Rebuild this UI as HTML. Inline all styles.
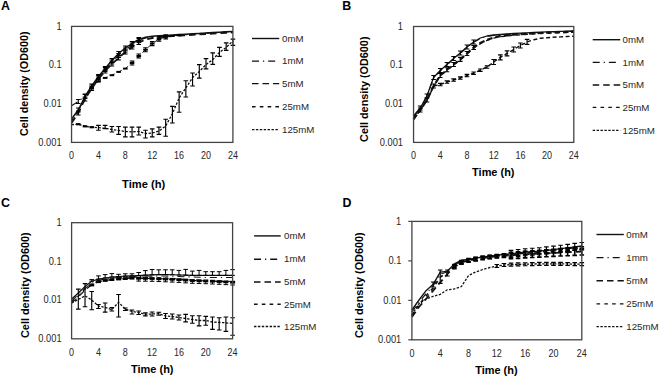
<!DOCTYPE html><html><head><meta charset="utf-8"><style>html,body{margin:0;padding:0;background:#fff;}svg{display:block;}text{font-family:"Liberation Sans",sans-serif;}</style></head><body>
<svg width="660" height="378" viewBox="0 0 660 378">
<rect x="0" y="0" width="660" height="378" fill="#fff"/>
<text x="1.00" y="10.30"  font-weight="bold" font-size="12.4" fill="#000">A</text>
<polyline points="71.55,119.00 78.27,110.00 85.00,96.50 91.72,86.00 98.44,76.50 105.16,68.50 111.89,60.50 118.61,53.50 125.33,48.00 132.06,43.50 138.78,39.50 145.50,37.30 152.23,36.30 158.95,35.80 165.67,35.40 172.39,35.00 179.12,34.60 185.84,34.20 192.56,33.80 199.29,33.40 206.01,33.00 212.73,32.60 219.45,32.20 226.18,31.80 232.90,31.40" fill="none" stroke="#111" stroke-width="1.5" stroke-linejoin="round"/>
<path d="M78.27 108.00V112.00M75.97 108.00h4.6M75.97 112.00h4.6" stroke="#000" stroke-width="1.15" fill="none"/>
<path d="M85.00 94.50V98.50M82.70 94.50h4.6M82.70 98.50h4.6" stroke="#000" stroke-width="1.15" fill="none"/>
<path d="M91.72 84.00V88.00M89.42 84.00h4.6M89.42 88.00h4.6" stroke="#000" stroke-width="1.15" fill="none"/>
<path d="M98.44 74.50V78.50M96.14 74.50h4.6M96.14 78.50h4.6" stroke="#000" stroke-width="1.15" fill="none"/>
<path d="M105.16 66.50V70.50M102.86 66.50h4.6M102.86 70.50h4.6" stroke="#000" stroke-width="1.15" fill="none"/>
<path d="M111.89 58.50V62.50M109.59 58.50h4.6M109.59 62.50h4.6" stroke="#000" stroke-width="1.15" fill="none"/>
<path d="M118.61 51.50V55.50M116.31 51.50h4.6M116.31 55.50h4.6" stroke="#000" stroke-width="1.15" fill="none"/>
<path d="M125.33 46.00V50.00M123.03 46.00h4.6M123.03 50.00h4.6" stroke="#000" stroke-width="1.15" fill="none"/>
<path d="M132.06 41.50V45.50M129.76 41.50h4.6M129.76 45.50h4.6" stroke="#000" stroke-width="1.15" fill="none"/>
<path d="M138.78 37.50V41.50M136.48 37.50h4.6M136.48 41.50h4.6" stroke="#000" stroke-width="1.15" fill="none"/>
<polyline points="71.55,105.70 78.27,101.50 85.00,96.00 91.72,87.00 98.44,77.50 105.16,69.50 111.89,62.00 118.61,55.50 125.33,50.00 132.06,45.00 138.78,40.50 145.50,38.00 152.23,37.00 158.95,36.40 165.67,35.80 172.39,35.40 179.12,35.00 185.84,34.50 192.56,34.00 199.29,33.50 206.01,33.00 212.73,32.65 219.45,32.30 226.18,31.95 232.90,31.60" fill="none" stroke="#111" stroke-width="1.1" stroke-dasharray="7 4 1.2 4" stroke-linejoin="round"/>
<path d="M78.27 99.50V103.50M75.97 99.50h4.6M75.97 103.50h4.6" stroke="#000" stroke-width="1.15" fill="none"/>
<path d="M85.00 94.00V98.00M82.70 94.00h4.6M82.70 98.00h4.6" stroke="#000" stroke-width="1.15" fill="none"/>
<path d="M91.72 85.00V89.00M89.42 85.00h4.6M89.42 89.00h4.6" stroke="#000" stroke-width="1.15" fill="none"/>
<path d="M98.44 75.50V79.50M96.14 75.50h4.6M96.14 79.50h4.6" stroke="#000" stroke-width="1.15" fill="none"/>
<path d="M105.16 67.50V71.50M102.86 67.50h4.6M102.86 71.50h4.6" stroke="#000" stroke-width="1.15" fill="none"/>
<path d="M111.89 60.00V64.00M109.59 60.00h4.6M109.59 64.00h4.6" stroke="#000" stroke-width="1.15" fill="none"/>
<path d="M118.61 53.50V57.50M116.31 53.50h4.6M116.31 57.50h4.6" stroke="#000" stroke-width="1.15" fill="none"/>
<path d="M125.33 48.00V52.00M123.03 48.00h4.6M123.03 52.00h4.6" stroke="#000" stroke-width="1.15" fill="none"/>
<path d="M132.06 43.00V47.00M129.76 43.00h4.6M129.76 47.00h4.6" stroke="#000" stroke-width="1.15" fill="none"/>
<path d="M138.78 38.50V42.50M136.48 38.50h4.6M136.48 42.50h4.6" stroke="#000" stroke-width="1.15" fill="none"/>
<polyline points="71.55,123.00 78.27,113.00 85.00,99.00 91.72,88.50 98.44,79.00 105.16,71.00 111.89,64.00 118.61,58.00 125.33,52.00 132.06,47.00 138.78,42.50 145.50,39.50 152.23,38.00 158.95,37.25 165.67,36.50 172.39,36.10 179.12,35.70 185.84,35.30 192.56,34.90 199.29,34.45 206.01,34.00 212.73,33.60 219.45,33.20 226.18,32.80 232.90,32.40" fill="none" stroke="#111" stroke-width="1.8" stroke-dasharray="6.5 4" stroke-linejoin="round"/>
<path d="M78.27 111.00V115.00M75.97 111.00h4.6M75.97 115.00h4.6" stroke="#000" stroke-width="1.15" fill="none"/>
<path d="M85.00 97.00V101.00M82.70 97.00h4.6M82.70 101.00h4.6" stroke="#000" stroke-width="1.15" fill="none"/>
<path d="M91.72 86.50V90.50M89.42 86.50h4.6M89.42 90.50h4.6" stroke="#000" stroke-width="1.15" fill="none"/>
<path d="M98.44 77.00V81.00M96.14 77.00h4.6M96.14 81.00h4.6" stroke="#000" stroke-width="1.15" fill="none"/>
<path d="M105.16 69.00V73.00M102.86 69.00h4.6M102.86 73.00h4.6" stroke="#000" stroke-width="1.15" fill="none"/>
<path d="M111.89 62.00V66.00M109.59 62.00h4.6M109.59 66.00h4.6" stroke="#000" stroke-width="1.15" fill="none"/>
<path d="M118.61 56.00V60.00M116.31 56.00h4.6M116.31 60.00h4.6" stroke="#000" stroke-width="1.15" fill="none"/>
<path d="M125.33 50.00V54.00M123.03 50.00h4.6M123.03 54.00h4.6" stroke="#000" stroke-width="1.15" fill="none"/>
<path d="M132.06 45.00V49.00M129.76 45.00h4.6M129.76 49.00h4.6" stroke="#000" stroke-width="1.15" fill="none"/>
<path d="M138.78 40.50V44.50M136.48 40.50h4.6M136.48 44.50h4.6" stroke="#000" stroke-width="1.15" fill="none"/>
<polyline points="71.55,121.00 78.27,111.00 85.00,98.00 91.72,88.00 98.44,81.60 105.16,77.90 111.89,75.20 118.61,71.90 125.33,68.60 132.06,63.00 138.78,56.00 145.50,49.70 152.23,43.60 158.95,39.10 165.67,36.90 172.39,36.00 179.12,35.30 185.84,34.75 192.56,34.20 199.29,33.75 206.01,33.30 212.73,32.90 219.45,32.50 226.18,32.15 232.90,31.80" fill="none" stroke="#111" stroke-width="1.0" stroke-dasharray="3.6 4.2" stroke-linejoin="round"/>
<rect x="89.42" y="87.00" width="4.6" height="2.0" fill="#000"/>
<rect x="96.14" y="80.60" width="4.6" height="2.0" fill="#000"/>
<rect x="102.86" y="76.90" width="4.6" height="2.0" fill="#000"/>
<rect x="109.59" y="74.20" width="4.6" height="2.0" fill="#000"/>
<rect x="116.31" y="70.90" width="4.6" height="2.0" fill="#000"/>
<rect x="123.03" y="67.60" width="4.6" height="2.0" fill="#000"/>
<rect x="129.76" y="62.00" width="4.6" height="2.0" fill="#000"/>
<rect x="136.48" y="55.00" width="4.6" height="2.0" fill="#000"/>
<rect x="143.20" y="48.70" width="4.6" height="2.0" fill="#000"/>
<rect x="149.93" y="42.60" width="4.6" height="2.0" fill="#000"/>
<rect x="156.65" y="38.10" width="4.6" height="2.0" fill="#000"/>
<rect x="163.37" y="35.90" width="4.6" height="2.0" fill="#000"/>
<rect x="170.09" y="35.00" width="4.6" height="2.0" fill="#000"/>
<rect x="176.82" y="34.30" width="4.6" height="2.0" fill="#000"/>
<path d="M132.06 61.00V65.00M129.76 61.00h4.6M129.76 65.00h4.6" stroke="#000" stroke-width="1.15" fill="none"/>
<path d="M138.78 54.00V58.00M136.48 54.00h4.6M136.48 58.00h4.6" stroke="#000" stroke-width="1.15" fill="none"/>
<path d="M145.50 47.70V51.70M143.20 47.70h4.6M143.20 51.70h4.6" stroke="#000" stroke-width="1.15" fill="none"/>
<path d="M152.23 41.60V45.60M149.93 41.60h4.6M149.93 45.60h4.6" stroke="#000" stroke-width="1.15" fill="none"/>
<path d="M158.95 37.10V41.10M156.65 37.10h4.6M156.65 41.10h4.6" stroke="#000" stroke-width="1.15" fill="none"/>
<path d="M165.67 34.90V38.90M163.37 34.90h4.6M163.37 38.90h4.6" stroke="#000" stroke-width="1.15" fill="none"/>
<polyline points="71.55,124.70 78.27,124.20 85.00,126.30 91.72,127.20 98.44,127.70 105.16,128.30 111.89,129.50 118.61,130.50 125.33,131.50 132.06,131.80 138.78,131.50 145.50,133.50 152.23,133.00 158.95,131.00 165.67,126.00 172.39,113.70 179.12,98.00 185.84,87.80 192.56,77.60 199.29,71.50 206.01,64.60 212.73,59.60 219.45,52.40 226.18,47.40 232.90,41.00" fill="none" stroke="#111" stroke-width="1.3" stroke-dasharray="2.4 1.5" stroke-linejoin="round"/>
<rect x="76.02" y="123.10" width="4.5" height="2.2" fill="#000"/>
<rect x="82.75" y="125.20" width="4.5" height="2.2" fill="#000"/>
<rect x="89.47" y="126.10" width="4.5" height="2.2" fill="#000"/>
<path d="M98.44 125.30V130.20M96.14 125.30h4.6M96.14 130.20h4.6" stroke="#000" stroke-width="1.15" fill="none"/>
<path d="M105.16 125.30V128.60M102.86 125.30h4.6M102.86 128.60h4.6" stroke="#000" stroke-width="1.15" fill="none"/>
<path d="M111.89 126.50V132.00M109.59 126.50h4.6M109.59 132.00h4.6" stroke="#000" stroke-width="1.15" fill="none"/>
<path d="M118.61 126.50V134.40M116.31 126.50h4.6M116.31 134.40h4.6" stroke="#000" stroke-width="1.15" fill="none"/>
<path d="M125.33 127.10V136.80M123.03 127.10h4.6M123.03 136.80h4.6" stroke="#000" stroke-width="1.15" fill="none"/>
<path d="M132.06 127.10V136.80M129.76 127.10h4.6M129.76 136.80h4.6" stroke="#000" stroke-width="1.15" fill="none"/>
<path d="M138.78 127.10V135.00M136.48 127.10h4.6M136.48 135.00h4.6" stroke="#000" stroke-width="1.15" fill="none"/>
<path d="M145.50 130.20V138.00M143.20 130.20h4.6M143.20 138.00h4.6" stroke="#000" stroke-width="1.15" fill="none"/>
<path d="M152.23 128.90V136.80M149.93 128.90h4.6M149.93 136.80h4.6" stroke="#000" stroke-width="1.15" fill="none"/>
<path d="M158.95 127.10V134.40M156.65 127.10h4.6M156.65 134.40h4.6" stroke="#000" stroke-width="1.15" fill="none"/>
<path d="M165.67 119.20V136.20M163.37 119.20h4.6M163.37 136.20h4.6" stroke="#000" stroke-width="1.15" fill="none"/>
<path d="M172.39 106.30V123.00M170.09 106.30h4.6M170.09 123.00h4.6" stroke="#000" stroke-width="1.15" fill="none"/>
<path d="M179.12 91.90V112.20M176.82 91.90h4.6M176.82 112.20h4.6" stroke="#000" stroke-width="1.15" fill="none"/>
<path d="M185.84 80.70V97.00M183.54 80.70h4.6M183.54 97.00h4.6" stroke="#000" stroke-width="1.15" fill="none"/>
<path d="M192.56 73.00V86.00M190.26 73.00h4.6M190.26 86.00h4.6" stroke="#000" stroke-width="1.15" fill="none"/>
<path d="M199.29 64.60V78.10M196.99 64.60h4.6M196.99 78.10h4.6" stroke="#000" stroke-width="1.15" fill="none"/>
<path d="M206.01 58.60V68.90M203.71 58.60h4.6M203.71 68.90h4.6" stroke="#000" stroke-width="1.15" fill="none"/>
<path d="M212.73 52.90V64.30M210.43 52.90h4.6M210.43 64.30h4.6" stroke="#000" stroke-width="1.15" fill="none"/>
<path d="M219.45 47.40V56.30M217.15 47.40h4.6M217.15 56.30h4.6" stroke="#000" stroke-width="1.15" fill="none"/>
<path d="M226.18 42.90V50.30M223.88 42.90h4.6M223.88 50.30h4.6" stroke="#000" stroke-width="1.15" fill="none"/>
<path d="M232.90 39.10V45.30M230.60 39.10h4.6M230.60 45.30h4.6" stroke="#000" stroke-width="1.15" fill="none"/>
<rect x="71.55" y="26.40" width="161.35" height="116.00" fill="none" stroke="#444" stroke-width="1.3"/>
<text transform="translate(61.60,29.60) scale(0.93,1)"  font-size="10" fill="#262626" text-anchor="end">1</text>
<text transform="translate(61.60,68.27) scale(0.93,1)"  font-size="10" fill="#262626" text-anchor="end">0.1</text>
<text transform="translate(61.60,106.93) scale(0.93,1)"  font-size="10" fill="#262626" text-anchor="end">0.01</text>
<text transform="translate(61.60,145.60) scale(0.93,1)"  font-size="10" fill="#262626" text-anchor="end">0.001</text>
<text transform="translate(71.55,159.00) scale(0.9,1)"  font-size="10" fill="#262626" text-anchor="middle">0</text>
<text transform="translate(98.44,159.00) scale(0.9,1)"  font-size="10" fill="#262626" text-anchor="middle">4</text>
<text transform="translate(125.33,159.00) scale(0.9,1)"  font-size="10" fill="#262626" text-anchor="middle">8</text>
<text transform="translate(152.23,159.00) scale(0.9,1)"  font-size="10" fill="#262626" text-anchor="middle">12</text>
<text transform="translate(179.12,159.00) scale(0.9,1)"  font-size="10" fill="#262626" text-anchor="middle">16</text>
<text transform="translate(206.01,159.00) scale(0.9,1)"  font-size="10" fill="#262626" text-anchor="middle">20</text>
<text transform="translate(232.90,159.00) scale(0.9,1)"  font-size="10" fill="#262626" text-anchor="middle">24</text>
<text x="122.10" y="187.70"  font-weight="bold" font-size="11" fill="#000" textLength="43.10" lengthAdjust="spacingAndGlyphs">Time (h)</text>
<text transform="translate(27.50,136.00) rotate(-90)" x="0" y="0"  font-weight="bold" font-size="11" fill="#000" textLength="104.50" lengthAdjust="spacingAndGlyphs">Cell density (OD600)</text>
<path d="M252.00 38.50H279.20" stroke="#111" stroke-width="1.4"/>
<text x="282.10" y="41.70"  font-size="9.7" fill="#262626">0mM</text>
<path d="M252.00 61.10H275.50" stroke="#111" stroke-width="1.4" stroke-dasharray="7 4 1.2 4"/>
<text x="282.10" y="64.30"  font-size="9.7" fill="#262626">1mM</text>
<path d="M252.00 83.60H279.20" stroke="#111" stroke-width="1.4" stroke-dasharray="6.5 4"/>
<text x="282.10" y="86.80"  font-size="9.7" fill="#262626">5mM</text>
<path d="M252.00 106.80H279.20" stroke="#111" stroke-width="1.4" stroke-dasharray="3.6 4.2"/>
<text x="282.10" y="110.00"  font-size="9.7" fill="#262626">25mM</text>
<path d="M252.00 129.60H279.20" stroke="#111" stroke-width="1.4" stroke-dasharray="2.4 1.5"/>
<text x="282.10" y="132.80"  font-size="9.7" fill="#262626">125mM</text>
<text x="342.30" y="10.10"  font-weight="bold" font-size="12.4" fill="#000">B</text>
<polyline points="413.55,116.00 420.23,108.00 426.90,96.00 433.58,77.50 440.26,70.50 446.94,64.50 453.61,58.50 460.29,53.00 466.97,47.00 473.64,42.00 480.32,38.00 487.00,36.00 493.67,35.00 500.35,34.50 507.03,34.00 513.71,33.50 520.38,33.17 527.06,32.83 533.74,32.50 540.41,32.20 547.09,31.90 553.77,31.60 560.45,31.40 567.12,31.20 573.80,31.00" fill="none" stroke="#111" stroke-width="1.3" stroke-linejoin="round"/>
<path d="M420.23 106.00V110.00M417.93 106.00h4.6M417.93 110.00h4.6" stroke="#000" stroke-width="1.15" fill="none"/>
<path d="M426.90 94.00V98.00M424.60 94.00h4.6M424.60 98.00h4.6" stroke="#000" stroke-width="1.15" fill="none"/>
<path d="M433.58 75.50V79.50M431.28 75.50h4.6M431.28 79.50h4.6" stroke="#000" stroke-width="1.15" fill="none"/>
<path d="M440.26 68.50V72.50M437.96 68.50h4.6M437.96 72.50h4.6" stroke="#000" stroke-width="1.15" fill="none"/>
<path d="M446.94 62.50V66.50M444.64 62.50h4.6M444.64 66.50h4.6" stroke="#000" stroke-width="1.15" fill="none"/>
<path d="M453.61 56.50V60.50M451.31 56.50h4.6M451.31 60.50h4.6" stroke="#000" stroke-width="1.15" fill="none"/>
<path d="M460.29 51.00V55.00M457.99 51.00h4.6M457.99 55.00h4.6" stroke="#000" stroke-width="1.15" fill="none"/>
<path d="M466.97 45.00V49.00M464.67 45.00h4.6M464.67 49.00h4.6" stroke="#000" stroke-width="1.15" fill="none"/>
<path d="M473.64 40.00V44.00M471.34 40.00h4.6M471.34 44.00h4.6" stroke="#000" stroke-width="1.15" fill="none"/>
<polyline points="413.55,116.40 420.23,108.40 426.90,96.40 433.58,77.90 440.26,70.90 446.94,64.90 453.61,58.90 460.29,53.40 466.97,47.40 473.64,42.40 480.32,38.40 487.00,36.40 493.67,35.40 500.35,34.90 507.03,34.40 513.71,33.90 520.38,33.57 527.06,33.23 533.74,32.90 540.41,32.60 547.09,32.30 553.77,32.00 560.45,31.80 567.12,31.60 573.80,31.40" fill="none" stroke="#111" stroke-width="1.1" stroke-dasharray="7 4 1.2 4" stroke-linejoin="round"/>
<polyline points="413.55,119.00 420.23,110.00 426.90,100.00 433.58,86.00 440.26,75.50 446.94,69.70 453.61,64.50 460.29,59.40 466.97,53.50 473.64,47.50 480.32,43.00 487.00,39.80 493.67,37.50 500.35,36.20 507.03,35.40 513.71,34.60 520.38,34.17 527.06,33.73 533.74,33.30 540.41,33.00 547.09,32.70 553.77,32.40 560.45,32.13 567.12,31.87 573.80,31.60" fill="none" stroke="#111" stroke-width="2.2" stroke-dasharray="5.5 3" stroke-linejoin="round"/>
<path d="M420.23 108.00V112.00M417.93 108.00h4.6M417.93 112.00h4.6" stroke="#000" stroke-width="1.15" fill="none"/>
<path d="M426.90 98.00V102.00M424.60 98.00h4.6M424.60 102.00h4.6" stroke="#000" stroke-width="1.15" fill="none"/>
<path d="M433.58 84.00V88.00M431.28 84.00h4.6M431.28 88.00h4.6" stroke="#000" stroke-width="1.15" fill="none"/>
<path d="M440.26 73.50V77.50M437.96 73.50h4.6M437.96 77.50h4.6" stroke="#000" stroke-width="1.15" fill="none"/>
<path d="M446.94 67.70V71.70M444.64 67.70h4.6M444.64 71.70h4.6" stroke="#000" stroke-width="1.15" fill="none"/>
<path d="M453.61 62.50V66.50M451.31 62.50h4.6M451.31 66.50h4.6" stroke="#000" stroke-width="1.15" fill="none"/>
<path d="M460.29 57.40V61.40M457.99 57.40h4.6M457.99 61.40h4.6" stroke="#000" stroke-width="1.15" fill="none"/>
<path d="M466.97 51.50V55.50M464.67 51.50h4.6M464.67 55.50h4.6" stroke="#000" stroke-width="1.15" fill="none"/>
<path d="M473.64 45.50V49.50M471.34 45.50h4.6M471.34 49.50h4.6" stroke="#000" stroke-width="1.15" fill="none"/>
<polyline points="413.55,119.60 420.23,110.60 426.90,100.60 433.58,86.60 440.26,76.10 446.94,70.30 453.61,65.10 460.29,60.00 466.97,54.10 473.64,48.10 480.32,43.60 487.00,40.40 493.67,38.10 500.35,36.80 507.03,36.00 513.71,35.20 520.38,34.77 527.06,34.33 533.74,33.90 540.41,33.60 547.09,33.30 553.77,33.00 560.45,32.73 567.12,32.47 573.80,32.20" fill="none" stroke="#111" stroke-width="1.3" stroke-dasharray="3.6 4.2" stroke-linejoin="round"/>
<polyline points="413.55,119.00 420.23,110.00 426.90,100.00 433.58,86.00 440.26,84.50 446.94,82.00 453.61,80.00 460.29,78.00 466.97,75.50 473.64,73.20 480.32,70.20 487.00,67.00 493.67,62.00 500.35,57.40 507.03,53.40 513.71,49.50 520.38,45.50 527.06,41.90 533.74,39.80 540.41,38.20 547.09,37.70 553.77,37.20 560.45,36.87 567.12,36.53 573.80,36.20" fill="none" stroke="#111" stroke-width="1.4" stroke-dasharray="4 2.5" stroke-linejoin="round"/>
<path d="M493.67 59.50V64.50M491.37 59.50h4.6M491.37 64.50h4.6" stroke="#000" stroke-width="1.15" fill="none"/>
<path d="M500.35 54.90V59.90M498.05 54.90h4.6M498.05 59.90h4.6" stroke="#000" stroke-width="1.15" fill="none"/>
<path d="M507.03 50.90V55.90M504.73 50.90h4.6M504.73 55.90h4.6" stroke="#000" stroke-width="1.15" fill="none"/>
<path d="M513.71 47.00V52.00M511.41 47.00h4.6M511.41 52.00h4.6" stroke="#000" stroke-width="1.15" fill="none"/>
<path d="M520.38 43.00V48.00M518.08 43.00h4.6M518.08 48.00h4.6" stroke="#000" stroke-width="1.15" fill="none"/>
<path d="M527.06 39.40V44.40M524.76 39.40h4.6M524.76 44.40h4.6" stroke="#000" stroke-width="1.15" fill="none"/>
<path d="M440.26 83.30V85.70M437.96 83.30h4.6M437.96 85.70h4.6" stroke="#000" stroke-width="1.15" fill="none"/>
<path d="M446.94 80.80V83.20M444.64 80.80h4.6M444.64 83.20h4.6" stroke="#000" stroke-width="1.15" fill="none"/>
<path d="M453.61 78.80V81.20M451.31 78.80h4.6M451.31 81.20h4.6" stroke="#000" stroke-width="1.15" fill="none"/>
<path d="M460.29 76.80V79.20M457.99 76.80h4.6M457.99 79.20h4.6" stroke="#000" stroke-width="1.15" fill="none"/>
<path d="M466.97 74.30V76.70M464.67 74.30h4.6M464.67 76.70h4.6" stroke="#000" stroke-width="1.15" fill="none"/>
<path d="M473.64 72.00V74.40M471.34 72.00h4.6M471.34 74.40h4.6" stroke="#000" stroke-width="1.15" fill="none"/>
<path d="M480.32 69.00V71.40M478.02 69.00h4.6M478.02 71.40h4.6" stroke="#000" stroke-width="1.15" fill="none"/>
<path d="M487.00 65.80V68.20M484.70 65.80h4.6M484.70 68.20h4.6" stroke="#000" stroke-width="1.15" fill="none"/>
<rect x="413.55" y="26.50" width="160.25" height="115.90" fill="none" stroke="#444" stroke-width="1.3"/>
<text transform="translate(403.00,29.70) scale(0.93,1)"  font-size="10" fill="#262626" text-anchor="end">1</text>
<text transform="translate(403.00,68.33) scale(0.93,1)"  font-size="10" fill="#262626" text-anchor="end">0.1</text>
<text transform="translate(403.00,106.97) scale(0.93,1)"  font-size="10" fill="#262626" text-anchor="end">0.01</text>
<text transform="translate(403.00,145.60) scale(0.93,1)"  font-size="10" fill="#262626" text-anchor="end">0.001</text>
<text transform="translate(413.55,159.20) scale(0.9,1)"  font-size="10" fill="#262626" text-anchor="middle">0</text>
<text transform="translate(440.26,159.20) scale(0.9,1)"  font-size="10" fill="#262626" text-anchor="middle">4</text>
<text transform="translate(466.97,159.20) scale(0.9,1)"  font-size="10" fill="#262626" text-anchor="middle">8</text>
<text transform="translate(493.67,159.20) scale(0.9,1)"  font-size="10" fill="#262626" text-anchor="middle">12</text>
<text transform="translate(520.38,159.20) scale(0.9,1)"  font-size="10" fill="#262626" text-anchor="middle">16</text>
<text transform="translate(547.09,159.20) scale(0.9,1)"  font-size="10" fill="#262626" text-anchor="middle">20</text>
<text transform="translate(573.80,159.20) scale(0.9,1)"  font-size="10" fill="#262626" text-anchor="middle">24</text>
<text x="472.10" y="176.40"  font-weight="bold" font-size="11" fill="#000" textLength="42.40" lengthAdjust="spacingAndGlyphs">Time (h)</text>
<text transform="translate(367.60,141.90) rotate(-90)" x="0" y="0"  font-weight="bold" font-size="11" fill="#000" textLength="105.40" lengthAdjust="spacingAndGlyphs">Cell density (OD600)</text>
<path d="M592.70 39.70H620.20" stroke="#111" stroke-width="1.4"/>
<text x="622.50" y="42.90"  font-size="9.7" fill="#262626">0mM</text>
<path d="M592.70 62.40H616.20" stroke="#111" stroke-width="1.4" stroke-dasharray="7 4 1.2 4"/>
<text x="622.50" y="65.60"  font-size="9.7" fill="#262626">1mM</text>
<path d="M592.70 85.00H620.20" stroke="#111" stroke-width="1.4" stroke-dasharray="6.5 4"/>
<text x="622.50" y="88.20"  font-size="9.7" fill="#262626">5mM</text>
<path d="M592.70 107.40H620.20" stroke="#111" stroke-width="1.4" stroke-dasharray="3.6 4.2"/>
<text x="622.50" y="110.60"  font-size="9.7" fill="#262626">25mM</text>
<path d="M592.70 130.40H620.20" stroke="#111" stroke-width="1.4" stroke-dasharray="2.4 1.5"/>
<text x="622.50" y="133.60"  font-size="9.7" fill="#262626">125mM</text>
<text x="0.90" y="207.20"  font-weight="bold" font-size="12.4" fill="#000">C</text>
<polyline points="71.60,299.00 78.31,293.00 85.02,286.50 91.72,281.20 98.43,279.10 105.14,278.00 111.85,277.00 118.56,276.50 125.27,276.20 131.97,275.90 138.68,275.60 145.39,275.20 152.10,274.80 158.81,274.65 165.52,274.50 172.22,274.75 178.93,275.00 185.64,275.20 192.35,275.40 199.06,275.40 205.77,275.40 212.47,275.40 219.18,275.40 225.89,275.40 232.60,275.40" fill="none" stroke="#111" stroke-width="1.2" stroke-linejoin="round"/>
<path d="M91.72 279.60V281.20M89.42 279.60h4.6M89.42 281.20h4.6" stroke="#000" stroke-width="1.0" fill="none"/>
<path d="M98.43 275.90V279.10M96.13 275.90h4.6M96.13 279.10h4.6" stroke="#000" stroke-width="1.0" fill="none"/>
<path d="M105.14 274.60V278.00M102.84 274.60h4.6M102.84 278.00h4.6" stroke="#000" stroke-width="1.0" fill="none"/>
<path d="M111.85 273.60V277.00M109.55 273.60h4.6M109.55 277.00h4.6" stroke="#000" stroke-width="1.0" fill="none"/>
<path d="M118.56 274.30V276.50M116.26 274.30h4.6M116.26 276.50h4.6" stroke="#000" stroke-width="1.0" fill="none"/>
<path d="M125.27 273.80V276.20M122.97 273.80h4.6M122.97 276.20h4.6" stroke="#000" stroke-width="1.0" fill="none"/>
<path d="M131.97 273.80V275.90M129.67 273.80h4.6M129.67 275.90h4.6" stroke="#000" stroke-width="1.0" fill="none"/>
<path d="M138.68 272.50V275.60M136.38 272.50h4.6M136.38 275.60h4.6" stroke="#000" stroke-width="1.0" fill="none"/>
<path d="M145.39 270.60V275.20M143.09 270.60h4.6M143.09 275.20h4.6" stroke="#000" stroke-width="1.0" fill="none"/>
<path d="M152.10 269.50V274.80M149.80 269.50h4.6M149.80 274.80h4.6" stroke="#000" stroke-width="1.0" fill="none"/>
<path d="M158.81 269.80V274.65M156.51 269.80h4.6M156.51 274.65h4.6" stroke="#000" stroke-width="1.0" fill="none"/>
<path d="M165.52 269.80V274.50M163.22 269.80h4.6M163.22 274.50h4.6" stroke="#000" stroke-width="1.0" fill="none"/>
<path d="M172.22 269.80V274.75M169.92 269.80h4.6M169.92 274.75h4.6" stroke="#000" stroke-width="1.0" fill="none"/>
<path d="M178.93 270.40V275.00M176.63 270.40h4.6M176.63 275.00h4.6" stroke="#000" stroke-width="1.0" fill="none"/>
<path d="M185.64 269.40V275.20M183.34 269.40h4.6M183.34 275.20h4.6" stroke="#000" stroke-width="1.0" fill="none"/>
<path d="M192.35 271.10V275.40M190.05 271.10h4.6M190.05 275.40h4.6" stroke="#000" stroke-width="1.0" fill="none"/>
<path d="M199.06 270.40V275.40M196.76 270.40h4.6M196.76 275.40h4.6" stroke="#000" stroke-width="1.0" fill="none"/>
<path d="M205.77 271.70V275.40M203.47 271.70h4.6M203.47 275.40h4.6" stroke="#000" stroke-width="1.0" fill="none"/>
<path d="M212.47 271.70V275.40M210.17 271.70h4.6M210.17 275.40h4.6" stroke="#000" stroke-width="1.0" fill="none"/>
<path d="M219.18 271.70V275.40M216.88 271.70h4.6M216.88 275.40h4.6" stroke="#000" stroke-width="1.0" fill="none"/>
<path d="M225.89 270.40V275.40M223.59 270.40h4.6M223.59 275.40h4.6" stroke="#000" stroke-width="1.0" fill="none"/>
<path d="M232.60 269.60V275.40M230.30 269.60h4.6M230.30 275.40h4.6" stroke="#000" stroke-width="1.0" fill="none"/>
<polyline points="71.60,301.00 78.31,294.50 85.02,288.50 91.72,283.50 98.43,280.50 105.14,279.00 111.85,278.00 118.56,277.50 125.27,277.00 131.97,276.75 138.68,276.50 145.39,276.25 152.10,276.00 158.81,276.00 165.52,276.00 172.22,276.25 178.93,276.50 185.64,276.75 192.35,277.00 199.06,277.25 205.77,277.50 212.47,277.50 219.18,277.50 225.89,277.50 232.60,277.50" fill="none" stroke="#111" stroke-width="1.1" stroke-dasharray="7 4 1.2 4" stroke-linejoin="round"/>
<polyline points="71.60,303.00 78.31,297.00 85.02,290.00 91.72,285.00 98.43,281.70 105.14,280.50 111.85,279.60 118.56,279.00 125.27,278.60 131.97,278.20 138.68,278.30 145.39,278.40 152.10,278.50 158.81,278.75 165.52,279.00 172.22,279.30 178.93,279.60 185.64,280.05 192.35,280.50 199.06,280.70 205.77,280.90 212.47,281.20 219.18,281.50 225.89,281.85 232.60,282.20" fill="none" stroke="#111" stroke-width="1.2" stroke-dasharray="6.5 4" stroke-linejoin="round"/>
<rect x="89.22" y="283.60" width="5" height="2.8" fill="#000"/>
<rect x="95.93" y="280.30" width="5" height="2.8" fill="#000"/>
<rect x="102.64" y="279.10" width="5" height="2.8" fill="#000"/>
<rect x="109.35" y="278.20" width="5" height="2.8" fill="#000"/>
<rect x="116.06" y="277.60" width="5" height="2.8" fill="#000"/>
<rect x="122.77" y="277.20" width="5" height="2.8" fill="#000"/>
<rect x="129.47" y="276.80" width="5" height="2.8" fill="#000"/>
<rect x="136.18" y="276.90" width="5" height="2.8" fill="#000"/>
<rect x="142.89" y="277.00" width="5" height="2.8" fill="#000"/>
<rect x="149.60" y="277.10" width="5" height="2.8" fill="#000"/>
<rect x="156.31" y="277.35" width="5" height="2.8" fill="#000"/>
<rect x="163.02" y="277.60" width="5" height="2.8" fill="#000"/>
<rect x="169.72" y="277.90" width="5" height="2.8" fill="#000"/>
<rect x="176.43" y="278.20" width="5" height="2.8" fill="#000"/>
<rect x="183.14" y="278.65" width="5" height="2.8" fill="#000"/>
<rect x="189.85" y="279.10" width="5" height="2.8" fill="#000"/>
<rect x="196.56" y="279.30" width="5" height="2.8" fill="#000"/>
<rect x="203.27" y="279.50" width="5" height="2.8" fill="#000"/>
<rect x="209.97" y="279.80" width="5" height="2.8" fill="#000"/>
<rect x="216.68" y="280.10" width="5" height="2.8" fill="#000"/>
<rect x="223.39" y="280.45" width="5" height="2.8" fill="#000"/>
<rect x="230.10" y="280.80" width="5" height="2.8" fill="#000"/>
<path d="M138.68 278.30V281.10M136.38 278.30h4.6M136.38 281.10h4.6" stroke="#000" stroke-width="1.0" fill="none"/>
<path d="M145.39 278.40V281.20M143.09 278.40h4.6M143.09 281.20h4.6" stroke="#000" stroke-width="1.0" fill="none"/>
<path d="M152.10 278.50V281.30M149.80 278.50h4.6M149.80 281.30h4.6" stroke="#000" stroke-width="1.0" fill="none"/>
<path d="M158.81 278.75V281.55M156.51 278.75h4.6M156.51 281.55h4.6" stroke="#000" stroke-width="1.0" fill="none"/>
<path d="M165.52 279.00V281.80M163.22 279.00h4.6M163.22 281.80h4.6" stroke="#000" stroke-width="1.0" fill="none"/>
<path d="M172.22 279.30V282.10M169.92 279.30h4.6M169.92 282.10h4.6" stroke="#000" stroke-width="1.0" fill="none"/>
<path d="M178.93 279.60V282.40M176.63 279.60h4.6M176.63 282.40h4.6" stroke="#000" stroke-width="1.0" fill="none"/>
<path d="M185.64 280.05V282.85M183.34 280.05h4.6M183.34 282.85h4.6" stroke="#000" stroke-width="1.0" fill="none"/>
<path d="M192.35 280.50V283.30M190.05 280.50h4.6M190.05 283.30h4.6" stroke="#000" stroke-width="1.0" fill="none"/>
<path d="M199.06 280.70V283.50M196.76 280.70h4.6M196.76 283.50h4.6" stroke="#000" stroke-width="1.0" fill="none"/>
<path d="M205.77 280.90V283.70M203.47 280.90h4.6M203.47 283.70h4.6" stroke="#000" stroke-width="1.0" fill="none"/>
<path d="M212.47 281.20V284.00M210.17 281.20h4.6M210.17 284.00h4.6" stroke="#000" stroke-width="1.0" fill="none"/>
<path d="M219.18 281.50V284.30M216.88 281.50h4.6M216.88 284.30h4.6" stroke="#000" stroke-width="1.0" fill="none"/>
<path d="M225.89 281.85V284.65M223.59 281.85h4.6M223.59 284.65h4.6" stroke="#000" stroke-width="1.0" fill="none"/>
<path d="M232.60 282.20V285.00M230.30 282.20h4.6M230.30 285.00h4.6" stroke="#000" stroke-width="1.0" fill="none"/>
<polyline points="71.60,302.00 78.31,296.00 85.02,289.00 91.72,284.00 98.43,281.00 105.14,279.00 111.85,278.00 118.56,277.50 125.27,277.30 131.97,277.15 138.68,277.00 145.39,277.10 152.10,277.20 158.81,277.60 165.52,278.00 172.22,278.50 178.93,279.00 185.64,279.50 192.35,280.00 199.06,280.25 205.77,280.50 212.47,280.75 219.18,281.00 225.89,281.25 232.60,281.50" fill="none" stroke="#111" stroke-width="1.1" stroke-dasharray="3.6 4.2" stroke-linejoin="round"/>
<polyline points="71.60,303.00 78.31,299.50 85.02,295.80 91.72,300.00 98.43,306.00 105.14,307.30 111.85,309.70 118.56,302.40 125.27,309.00 131.97,311.50 138.68,312.50 145.39,314.30 152.10,314.00 158.81,313.70 165.52,316.00 172.22,316.50 178.93,317.50 185.64,318.50 192.35,319.50 199.06,320.50 205.77,320.50 212.47,322.00 219.18,322.40 225.89,322.80 232.60,323.50" fill="none" stroke="#111" stroke-width="1.3" stroke-dasharray="2.4 1.5" stroke-linejoin="round"/>
<path d="M78.31 289.10V309.10M76.01 289.10h4.6M76.01 309.10h4.6" stroke="#000" stroke-width="1.15" fill="none"/>
<path d="M85.02 283.60V306.70M82.72 283.60h4.6M82.72 306.70h4.6" stroke="#000" stroke-width="1.15" fill="none"/>
<path d="M91.72 291.50V309.70M89.42 291.50h4.6M89.42 309.70h4.6" stroke="#000" stroke-width="1.15" fill="none"/>
<path d="M98.43 304.50V308.50M96.13 304.50h4.6M96.13 308.50h4.6" stroke="#000" stroke-width="1.15" fill="none"/>
<path d="M105.14 303.00V312.10M102.84 303.00h4.6M102.84 312.10h4.6" stroke="#000" stroke-width="1.15" fill="none"/>
<path d="M111.85 307.50V311.00M109.55 307.50h4.6M109.55 311.00h4.6" stroke="#000" stroke-width="1.15" fill="none"/>
<path d="M118.56 294.50V317.00M116.26 294.50h4.6M116.26 317.00h4.6" stroke="#000" stroke-width="1.15" fill="none"/>
<path d="M125.27 308.00V310.50M122.97 308.00h4.6M122.97 310.50h4.6" stroke="#000" stroke-width="1.15" fill="none"/>
<path d="M131.97 310.00V314.00M129.67 310.00h4.6M129.67 314.00h4.6" stroke="#000" stroke-width="1.15" fill="none"/>
<path d="M138.68 311.00V314.50M136.38 311.00h4.6M136.38 314.50h4.6" stroke="#000" stroke-width="1.15" fill="none"/>
<path d="M145.39 312.80V315.80M143.09 312.80h4.6M143.09 315.80h4.6" stroke="#000" stroke-width="1.15" fill="none"/>
<path d="M152.10 312.00V316.00M149.80 312.00h4.6M149.80 316.00h4.6" stroke="#000" stroke-width="1.15" fill="none"/>
<path d="M158.81 312.20V315.20M156.51 312.20h4.6M156.51 315.20h4.6" stroke="#000" stroke-width="1.15" fill="none"/>
<path d="M165.52 313.50V318.50M163.22 313.50h4.6M163.22 318.50h4.6" stroke="#000" stroke-width="1.15" fill="none"/>
<path d="M172.22 314.00V319.00M169.92 314.00h4.6M169.92 319.00h4.6" stroke="#000" stroke-width="1.15" fill="none"/>
<path d="M178.93 315.00V320.00M176.63 315.00h4.6M176.63 320.00h4.6" stroke="#000" stroke-width="1.15" fill="none"/>
<path d="M185.64 314.30V321.80M183.34 314.30h4.6M183.34 321.80h4.6" stroke="#000" stroke-width="1.15" fill="none"/>
<path d="M192.35 315.70V323.20M190.05 315.70h4.6M190.05 323.20h4.6" stroke="#000" stroke-width="1.15" fill="none"/>
<path d="M199.06 315.70V325.90M196.76 315.70h4.6M196.76 325.90h4.6" stroke="#000" stroke-width="1.15" fill="none"/>
<path d="M205.77 316.40V325.20M203.47 316.40h4.6M203.47 325.20h4.6" stroke="#000" stroke-width="1.15" fill="none"/>
<path d="M212.47 317.00V329.30M210.17 317.00h4.6M210.17 329.30h4.6" stroke="#000" stroke-width="1.15" fill="none"/>
<path d="M219.18 317.70V330.00M216.88 317.70h4.6M216.88 330.00h4.6" stroke="#000" stroke-width="1.15" fill="none"/>
<path d="M225.89 317.00V331.40M223.59 317.00h4.6M223.59 331.40h4.6" stroke="#000" stroke-width="1.15" fill="none"/>
<path d="M232.60 317.70V335.20M230.30 317.70h4.6M230.30 335.20h4.6" stroke="#000" stroke-width="1.15" fill="none"/>
<rect x="71.60" y="222.70" width="161.00" height="116.10" fill="none" stroke="#444" stroke-width="1.3"/>
<text transform="translate(61.60,225.90) scale(0.93,1)"  font-size="10" fill="#262626" text-anchor="end">1</text>
<text transform="translate(61.60,264.60) scale(0.93,1)"  font-size="10" fill="#262626" text-anchor="end">0.1</text>
<text transform="translate(61.60,303.30) scale(0.93,1)"  font-size="10" fill="#262626" text-anchor="end">0.01</text>
<text transform="translate(61.60,342.00) scale(0.93,1)"  font-size="10" fill="#262626" text-anchor="end">0.001</text>
<text transform="translate(71.60,355.60) scale(0.9,1)"  font-size="10" fill="#262626" text-anchor="middle">0</text>
<text transform="translate(98.43,355.60) scale(0.9,1)"  font-size="10" fill="#262626" text-anchor="middle">4</text>
<text transform="translate(125.27,355.60) scale(0.9,1)"  font-size="10" fill="#262626" text-anchor="middle">8</text>
<text transform="translate(152.10,355.60) scale(0.9,1)"  font-size="10" fill="#262626" text-anchor="middle">12</text>
<text transform="translate(178.93,355.60) scale(0.9,1)"  font-size="10" fill="#262626" text-anchor="middle">16</text>
<text transform="translate(205.77,355.60) scale(0.9,1)"  font-size="10" fill="#262626" text-anchor="middle">20</text>
<text transform="translate(232.60,355.60) scale(0.9,1)"  font-size="10" fill="#262626" text-anchor="middle">24</text>
<text x="131.00" y="373.30"  font-weight="bold" font-size="11" fill="#000" textLength="42.50" lengthAdjust="spacingAndGlyphs">Time (h)</text>
<text transform="translate(29.00,338.00) rotate(-90)" x="0" y="0"  font-weight="bold" font-size="11" fill="#000" textLength="105.70" lengthAdjust="spacingAndGlyphs">Cell density (OD600)</text>
<path d="M254.00 235.90H280.70" stroke="#111" stroke-width="1.4"/>
<text x="284.00" y="239.10"  font-size="9.7" fill="#262626">0mM</text>
<path d="M254.00 259.20H277.50" stroke="#111" stroke-width="1.4" stroke-dasharray="7 4 1.2 4"/>
<text x="284.00" y="262.40"  font-size="9.7" fill="#262626">1mM</text>
<path d="M254.00 282.00H280.70" stroke="#111" stroke-width="1.4" stroke-dasharray="6.5 4"/>
<text x="284.00" y="285.20"  font-size="9.7" fill="#262626">5mM</text>
<path d="M254.00 304.30H280.70" stroke="#111" stroke-width="1.4" stroke-dasharray="3.6 4.2"/>
<text x="284.00" y="307.50"  font-size="9.7" fill="#262626">25mM</text>
<path d="M254.00 326.50H280.70" stroke="#111" stroke-width="1.4" stroke-dasharray="2.4 1.5"/>
<text x="284.00" y="329.70"  font-size="9.7" fill="#262626">125mM</text>
<text x="342.60" y="207.00"  font-weight="bold" font-size="12.4" fill="#000">D</text>
<polyline points="411.90,310.00 418.98,300.00 426.06,290.70 433.14,284.30 440.22,272.20 447.30,271.30 454.38,263.90 461.45,260.20 468.53,259.30 475.61,258.15 482.69,257.00 489.77,256.10 496.85,255.20 503.93,254.50 511.01,253.80 518.09,253.00 525.17,252.20 532.25,251.70 539.32,251.20 546.40,250.40 553.48,249.60 560.56,248.70 567.64,247.80 574.72,246.90 581.80,246.00" fill="none" stroke="#111" stroke-width="1.3" stroke-linejoin="round"/>
<path d="M433.14 282.00V287.00M430.84 282.00h4.6M430.84 287.00h4.6" stroke="#000" stroke-width="1.15" fill="none"/>
<path d="M440.22 270.00V283.30M437.92 270.00h4.6M437.92 283.30h4.6" stroke="#000" stroke-width="1.15" fill="none"/>
<path d="M447.30 270.00V276.00M445.00 270.00h4.6M445.00 276.00h4.6" stroke="#000" stroke-width="1.15" fill="none"/>
<path d="M511.01 250.30V257.30M508.71 250.30h4.6M508.71 257.30h4.6" stroke="#000" stroke-width="1.15" fill="none"/>
<path d="M518.09 249.50V256.50M515.79 249.50h4.6M515.79 256.50h4.6" stroke="#000" stroke-width="1.15" fill="none"/>
<path d="M525.17 248.70V255.70M522.87 248.70h4.6M522.87 255.70h4.6" stroke="#000" stroke-width="1.15" fill="none"/>
<path d="M532.25 248.20V255.20M529.95 248.20h4.6M529.95 255.20h4.6" stroke="#000" stroke-width="1.15" fill="none"/>
<path d="M539.32 247.70V254.70M537.02 247.70h4.6M537.02 254.70h4.6" stroke="#000" stroke-width="1.15" fill="none"/>
<path d="M546.40 246.90V253.90M544.10 246.90h4.6M544.10 253.90h4.6" stroke="#000" stroke-width="1.15" fill="none"/>
<path d="M553.48 246.10V253.10M551.18 246.10h4.6M551.18 253.10h4.6" stroke="#000" stroke-width="1.15" fill="none"/>
<path d="M560.56 245.20V252.20M558.26 245.20h4.6M558.26 252.20h4.6" stroke="#000" stroke-width="1.15" fill="none"/>
<path d="M567.64 244.30V251.30M565.34 244.30h4.6M565.34 251.30h4.6" stroke="#000" stroke-width="1.15" fill="none"/>
<path d="M574.72 243.40V250.40M572.42 243.40h4.6M572.42 250.40h4.6" stroke="#000" stroke-width="1.15" fill="none"/>
<path d="M581.80 242.50V249.50M579.50 242.50h4.6M579.50 249.50h4.6" stroke="#000" stroke-width="1.15" fill="none"/>
<polyline points="411.90,312.00 418.98,302.50 426.06,293.50 433.14,286.00 440.22,274.00 447.30,272.00 454.38,265.00 461.45,261.00 468.53,259.80 475.61,258.65 482.69,257.50 489.77,256.60 496.85,255.70 503.93,255.00 511.01,254.30 518.09,253.55 525.17,252.80 532.25,252.30 539.32,251.80 546.40,251.05 553.48,250.30 560.56,249.55 567.64,248.80 574.72,248.15 581.80,247.50" fill="none" stroke="#111" stroke-width="1.1" stroke-dasharray="7 4 1.2 4" stroke-linejoin="round"/>
<polyline points="411.90,317.00 418.98,307.00 426.06,299.00 433.14,290.70 440.22,282.40 447.30,274.10 454.38,267.00 461.45,262.50 468.53,260.50 475.61,259.25 482.69,258.00 489.77,257.20 496.85,256.40 503.93,255.85 511.01,255.30 518.09,254.85 525.17,254.40 532.25,254.00 539.32,253.60 546.40,253.25 553.48,252.90 560.56,252.55 567.64,252.20 574.72,251.85 581.80,251.50" fill="none" stroke="#111" stroke-width="1.8" stroke-dasharray="6.5 4" stroke-linejoin="round"/>
<path d="M454.38 265.40V268.60M452.07 265.40h4.6M452.07 268.60h4.6" stroke="#000" stroke-width="1.6" fill="none"/>
<path d="M461.45 260.90V264.10M459.15 260.90h4.6M459.15 264.10h4.6" stroke="#000" stroke-width="1.6" fill="none"/>
<path d="M468.53 258.90V262.10M466.23 258.90h4.6M466.23 262.10h4.6" stroke="#000" stroke-width="1.6" fill="none"/>
<path d="M475.61 257.65V260.85M473.31 257.65h4.6M473.31 260.85h4.6" stroke="#000" stroke-width="1.6" fill="none"/>
<path d="M482.69 256.40V259.60M480.39 256.40h4.6M480.39 259.60h4.6" stroke="#000" stroke-width="1.6" fill="none"/>
<path d="M489.77 255.60V258.80M487.47 255.60h4.6M487.47 258.80h4.6" stroke="#000" stroke-width="1.6" fill="none"/>
<path d="M496.85 254.80V258.00M494.55 254.80h4.6M494.55 258.00h4.6" stroke="#000" stroke-width="1.6" fill="none"/>
<path d="M503.93 254.25V257.45M501.63 254.25h4.6M501.63 257.45h4.6" stroke="#000" stroke-width="1.6" fill="none"/>
<path d="M511.01 252.30V258.80M508.71 252.30h4.6M508.71 258.80h4.6" stroke="#000" stroke-width="1.6" fill="none"/>
<path d="M518.09 251.85V258.35M515.79 251.85h4.6M515.79 258.35h4.6" stroke="#000" stroke-width="1.6" fill="none"/>
<path d="M525.17 251.40V257.90M522.87 251.40h4.6M522.87 257.90h4.6" stroke="#000" stroke-width="1.6" fill="none"/>
<path d="M532.25 251.00V257.50M529.95 251.00h4.6M529.95 257.50h4.6" stroke="#000" stroke-width="1.6" fill="none"/>
<path d="M539.32 250.60V257.10M537.02 250.60h4.6M537.02 257.10h4.6" stroke="#000" stroke-width="1.6" fill="none"/>
<path d="M546.40 250.25V256.75M544.10 250.25h4.6M544.10 256.75h4.6" stroke="#000" stroke-width="1.6" fill="none"/>
<path d="M553.48 249.90V256.40M551.18 249.90h4.6M551.18 256.40h4.6" stroke="#000" stroke-width="1.6" fill="none"/>
<path d="M560.56 249.55V256.05M558.26 249.55h4.6M558.26 256.05h4.6" stroke="#000" stroke-width="1.6" fill="none"/>
<path d="M567.64 249.20V255.70M565.34 249.20h4.6M565.34 255.70h4.6" stroke="#000" stroke-width="1.6" fill="none"/>
<path d="M574.72 248.85V255.35M572.42 248.85h4.6M572.42 255.35h4.6" stroke="#000" stroke-width="1.6" fill="none"/>
<path d="M581.80 248.50V255.00M579.50 248.50h4.6M579.50 255.00h4.6" stroke="#000" stroke-width="1.6" fill="none"/>
<polyline points="411.90,315.00 418.98,305.00 426.06,296.00 433.14,288.00 440.22,277.00 447.30,273.00 454.38,266.00 461.45,262.00 468.53,260.00 475.61,258.85 482.69,257.70 489.77,256.85 496.85,256.00 503.93,255.25 511.01,254.50 518.09,253.75 525.17,253.00 532.25,252.50 539.32,252.00 546.40,251.40 553.48,250.80 560.56,250.10 567.64,249.40 574.72,248.80 581.80,248.20" fill="none" stroke="#111" stroke-width="1.8" stroke-dasharray="3.6 4.2" stroke-linejoin="round"/>
<path d="M454.38 264.50V267.50M452.07 264.50h4.6M452.07 267.50h4.6" stroke="#000" stroke-width="1.6" fill="none"/>
<path d="M461.45 260.50V263.50M459.15 260.50h4.6M459.15 263.50h4.6" stroke="#000" stroke-width="1.6" fill="none"/>
<path d="M468.53 258.50V261.50M466.23 258.50h4.6M466.23 261.50h4.6" stroke="#000" stroke-width="1.6" fill="none"/>
<path d="M475.61 257.35V260.35M473.31 257.35h4.6M473.31 260.35h4.6" stroke="#000" stroke-width="1.6" fill="none"/>
<path d="M482.69 256.20V259.20M480.39 256.20h4.6M480.39 259.20h4.6" stroke="#000" stroke-width="1.6" fill="none"/>
<path d="M489.77 255.35V258.35M487.47 255.35h4.6M487.47 258.35h4.6" stroke="#000" stroke-width="1.6" fill="none"/>
<path d="M496.85 254.50V257.50M494.55 254.50h4.6M494.55 257.50h4.6" stroke="#000" stroke-width="1.6" fill="none"/>
<path d="M503.93 253.75V256.75M501.63 253.75h4.6M501.63 256.75h4.6" stroke="#000" stroke-width="1.6" fill="none"/>
<path d="M511.01 253.00V256.00M508.71 253.00h4.6M508.71 256.00h4.6" stroke="#000" stroke-width="1.6" fill="none"/>
<path d="M518.09 252.25V255.25M515.79 252.25h4.6M515.79 255.25h4.6" stroke="#000" stroke-width="1.6" fill="none"/>
<path d="M525.17 251.50V254.50M522.87 251.50h4.6M522.87 254.50h4.6" stroke="#000" stroke-width="1.6" fill="none"/>
<path d="M532.25 251.00V254.00M529.95 251.00h4.6M529.95 254.00h4.6" stroke="#000" stroke-width="1.6" fill="none"/>
<path d="M539.32 250.50V253.50M537.02 250.50h4.6M537.02 253.50h4.6" stroke="#000" stroke-width="1.6" fill="none"/>
<path d="M546.40 249.90V252.90M544.10 249.90h4.6M544.10 252.90h4.6" stroke="#000" stroke-width="1.6" fill="none"/>
<path d="M553.48 249.30V252.30M551.18 249.30h4.6M551.18 252.30h4.6" stroke="#000" stroke-width="1.6" fill="none"/>
<path d="M560.56 248.60V251.60M558.26 248.60h4.6M558.26 251.60h4.6" stroke="#000" stroke-width="1.6" fill="none"/>
<path d="M567.64 247.90V250.90M565.34 247.90h4.6M565.34 250.90h4.6" stroke="#000" stroke-width="1.6" fill="none"/>
<path d="M574.72 247.30V250.30M572.42 247.30h4.6M572.42 250.30h4.6" stroke="#000" stroke-width="1.6" fill="none"/>
<path d="M581.80 246.70V249.70M579.50 246.70h4.6M579.50 249.70h4.6" stroke="#000" stroke-width="1.6" fill="none"/>
<polyline points="411.90,314.80 418.98,303.70 426.06,299.00 433.14,296.30 440.22,294.40 447.30,289.80 454.38,288.90 461.45,286.50 468.53,275.50 475.61,272.00 482.69,269.50 489.77,267.50 496.85,266.00 503.93,265.00 511.01,264.60 518.09,264.40 525.17,264.20 532.25,264.05 539.32,263.90 546.40,263.85 553.48,263.80 560.56,263.90 567.64,264.00 574.72,264.05 581.80,264.10" fill="none" stroke="#111" stroke-width="1.3" stroke-dasharray="2.4 1.5" stroke-linejoin="round"/>
<path d="M496.85 264.50V267.50M494.55 264.50h4.6M494.55 267.50h4.6" stroke="#000" stroke-width="1.15" fill="none"/>
<path d="M503.93 263.50V266.50M501.63 263.50h4.6M501.63 266.50h4.6" stroke="#000" stroke-width="1.15" fill="none"/>
<path d="M511.01 263.10V266.10M508.71 263.10h4.6M508.71 266.10h4.6" stroke="#000" stroke-width="1.15" fill="none"/>
<path d="M518.09 262.90V265.90M515.79 262.90h4.6M515.79 265.90h4.6" stroke="#000" stroke-width="1.15" fill="none"/>
<path d="M525.17 262.70V265.70M522.87 262.70h4.6M522.87 265.70h4.6" stroke="#000" stroke-width="1.15" fill="none"/>
<path d="M532.25 262.55V265.55M529.95 262.55h4.6M529.95 265.55h4.6" stroke="#000" stroke-width="1.15" fill="none"/>
<path d="M539.32 262.40V265.40M537.02 262.40h4.6M537.02 265.40h4.6" stroke="#000" stroke-width="1.15" fill="none"/>
<path d="M546.40 262.35V265.35M544.10 262.35h4.6M544.10 265.35h4.6" stroke="#000" stroke-width="1.15" fill="none"/>
<path d="M553.48 262.30V265.30M551.18 262.30h4.6M551.18 265.30h4.6" stroke="#000" stroke-width="1.15" fill="none"/>
<path d="M560.56 262.40V265.40M558.26 262.40h4.6M558.26 265.40h4.6" stroke="#000" stroke-width="1.15" fill="none"/>
<path d="M567.64 262.50V265.50M565.34 262.50h4.6M565.34 265.50h4.6" stroke="#000" stroke-width="1.15" fill="none"/>
<path d="M574.72 262.55V265.55M572.42 262.55h4.6M572.42 265.55h4.6" stroke="#000" stroke-width="1.15" fill="none"/>
<path d="M581.80 262.60V265.60M579.50 262.60h4.6M579.50 265.60h4.6" stroke="#000" stroke-width="1.15" fill="none"/>
<rect x="411.90" y="221.40" width="169.90" height="118.40" fill="none" stroke="#444" stroke-width="1.3"/>
<path d="M408.30 221.40H411.90" stroke="#444" stroke-width="1.2"/>
<path d="M408.30 260.87H411.90" stroke="#444" stroke-width="1.2"/>
<path d="M408.30 300.33H411.90" stroke="#444" stroke-width="1.2"/>
<path d="M408.30 339.80H411.90" stroke="#444" stroke-width="1.2"/>
<text transform="translate(401.30,224.60) scale(0.93,1)"  font-size="10" fill="#262626" text-anchor="end">1</text>
<text transform="translate(401.30,264.07) scale(0.93,1)"  font-size="10" fill="#262626" text-anchor="end">0.1</text>
<text transform="translate(401.30,303.53) scale(0.93,1)"  font-size="10" fill="#262626" text-anchor="end">0.01</text>
<text transform="translate(401.30,343.00) scale(0.93,1)"  font-size="10" fill="#262626" text-anchor="end">0.001</text>
<text transform="translate(411.90,356.90) scale(0.9,1)"  font-size="10" fill="#262626" text-anchor="middle">0</text>
<text transform="translate(440.22,356.90) scale(0.9,1)"  font-size="10" fill="#262626" text-anchor="middle">4</text>
<text transform="translate(468.53,356.90) scale(0.9,1)"  font-size="10" fill="#262626" text-anchor="middle">8</text>
<text transform="translate(496.85,356.90) scale(0.9,1)"  font-size="10" fill="#262626" text-anchor="middle">12</text>
<text transform="translate(525.17,356.90) scale(0.9,1)"  font-size="10" fill="#262626" text-anchor="middle">16</text>
<text transform="translate(553.48,356.90) scale(0.9,1)"  font-size="10" fill="#262626" text-anchor="middle">20</text>
<text transform="translate(581.80,356.90) scale(0.9,1)"  font-size="10" fill="#262626" text-anchor="middle">24</text>
<text x="475.20" y="374.40"  font-weight="bold" font-size="11" fill="#000" textLength="42.40" lengthAdjust="spacingAndGlyphs">Time (h)</text>
<text transform="translate(363.30,338.00) rotate(-90)" x="0" y="0"  font-weight="bold" font-size="11" fill="#000" textLength="105.70" lengthAdjust="spacingAndGlyphs">Cell density (OD600)</text>
<path d="M596.50 234.50H623.80" stroke="#111" stroke-width="1.4"/>
<text x="626.30" y="237.70"  font-size="9.7" fill="#262626">0mM</text>
<path d="M596.50 257.60H620.00" stroke="#111" stroke-width="1.4" stroke-dasharray="7 4 1.2 4"/>
<text x="626.30" y="260.80"  font-size="9.7" fill="#262626">1mm</text>
<path d="M596.50 280.80H623.80" stroke="#111" stroke-width="1.4" stroke-dasharray="6.5 4"/>
<text x="626.30" y="284.00"  font-size="9.7" fill="#262626">5mM</text>
<path d="M596.50 303.90H623.80" stroke="#111" stroke-width="1.4" stroke-dasharray="3.6 4.2"/>
<text x="626.30" y="307.10"  font-size="9.7" fill="#262626">25mM</text>
<path d="M596.50 326.60H623.80" stroke="#111" stroke-width="1.4" stroke-dasharray="2.4 1.5"/>
<text x="626.30" y="329.80"  font-size="9.7" fill="#262626">125mM</text>
</svg></body></html>
